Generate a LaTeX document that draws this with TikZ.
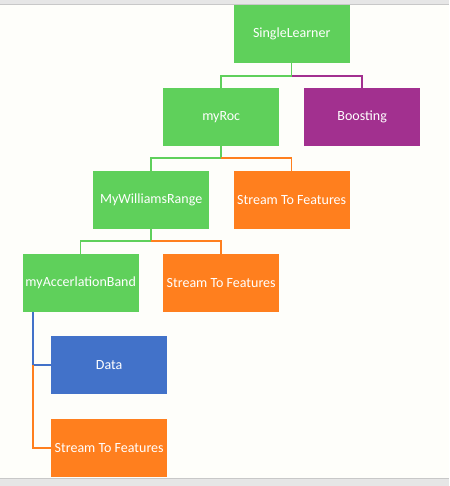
\documentclass[tikz,border=0pt]{standalone}
\usepackage{fontspec}
\setmainfont{Carlito}
\usetikzlibrary{positioning}
\definecolor{paper}{HTML}{FEFEFA}
\definecolor{bar}{HTML}{E6E6E6}
\definecolor{barline}{HTML}{C8C8C8}
\definecolor{leafgreen}{HTML}{5FD05B}
\definecolor{leafpurple}{HTML}{A2308F}
\definecolor{leaforange}{HTML}{FF7F1E}
\definecolor{leafblue}{HTML}{4272C9}

\begin{document}
\begin{tikzpicture}[x=1pt,y=-1pt]
    \tikzstyle{block}=[rectangle,minimum width=116pt,minimum height=58pt,inner sep=0pt,text=white,font=\fontsize{14}{16}\selectfont]
    \tikzstyle{green block}=[block, fill=leafgreen];
    \tikzstyle{purple block}=[block, fill=leafpurple];
    \tikzstyle{orange block}=[block, fill=leaforange];
    \tikzstyle{blue block}=[block, fill=leafblue];
    \tikzstyle{link}=[line width=1.5pt]

    % window frame
    \fill[paper] (0,0) rectangle (449,486);
    \fill[bar] (0,0) rectangle (449,4);
    \draw[barline] (0,4.5) -- (449,4.5);
    \fill[bar] (0,478) rectangle (449,486);
    \draw[barline] (0,478) -- (449,478);
    \useasboundingbox (0,0) rectangle (449,486);

    \node[green block] (SL) at (291.5,34) {SingleLearner};

    \node[green block] (R) at (221,117) {myRoc};
    \node[purple block] (B) at (362,117) {Boosting};

    \node[green block] (W) at (151,200) {MyWilliamsRange};
    \node[orange block] (S-1) at (291.5,200) {Stream To Features};

    \node[green block] (A) at (80.5,283) {myAccerlationBand};
    \node[orange block] (S-2) at (221,283) {Stream To Features};

    \node[blue block] (D) at (109,365) {Data};
    \node[orange block] (S-3) at (109,448) {Stream To Features};

    \draw[link, leafgreen] (SL.south) -- ++(0,13) -| (R.north);
    \draw[link, leafpurple] (SL.south) ++(0,13) -| (B.north);
    \draw[link, leafgreen] (R.south) -- ++(0,12) -| (W.north);
    \draw[link, leaforange] (R.south) ++(0,12) -| (S-1.north);
    \draw[link, leafgreen] (W.south) -- ++(0,12) -| (A.north);
    \draw[link, leaforange] (W.south) ++(0,12) -| (S-2.north);

    \coordinate (A-bus) at (33,312);
    \coordinate (D-bus) at (D.west -| A-bus);
    \draw[link, leafblue] (A-bus) |- (D.west);
    \draw[link, leaforange] (D-bus) |- (S-3.west);

\end{tikzpicture}
\end{document}
